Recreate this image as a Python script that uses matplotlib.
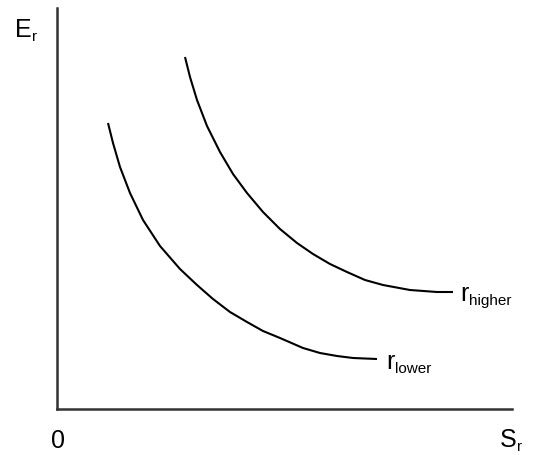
import matplotlib.pyplot as plt

plt.rcParams['font.family'] = ['Liberation Sans', 'DejaVu Sans']

# the two curves
lower_x = [51, 56, 63, 73, 86, 103, 123, 140, 156, 173, 190, 206, 223, 246, 263, 280, 296, 320]
lower_y = [286, 266, 242, 216, 189, 163, 140, 124, 110, 97, 87, 78, 71, 61, 56, 53, 51, 50]
higher_x = [128, 133, 140, 150, 163, 176, 190, 206, 223, 240, 256, 273, 290, 308, 326, 353, 380, 396]
higher_y = [352, 332, 309, 283, 257, 235, 216, 197, 180, 166, 155, 145, 137, 129, 124, 119, 117, 117]

fig = plt.figure(figsize=(5.47, 4.55), dpi=100)
ax = fig.add_axes([57 / 547, 46 / 455, 455 / 547, 401 / 455])
ax.set_xlim(0, 455)
ax.set_ylim(0, 401)

ax.plot(lower_x, lower_y, color='black', lw=1.5, solid_capstyle='butt', solid_joinstyle='round')
ax.plot(higher_x, higher_y, color='black', lw=1.5, solid_capstyle='butt', solid_joinstyle='round')

for s in ['top', 'right']:
    ax.spines[s].set_visible(False)
for s in ['left', 'bottom']:
    ax.spines[s].set_color('#333333')
    ax.spines[s].set_linewidth(1.8)
ax.set_xticks([])
ax.set_yticks([])

fs, fs_sub = 18, 11


def label(x, y, main, sub, width):
    # main letter, then a smaller subscript right after it
    ax.text(x, y, main, fontsize=fs, va='baseline', ha='left', clip_on=False)
    ax.annotate(sub, (x, y), xytext=(width, -3), textcoords='offset points',
                fontsize=fs_sub, va='baseline', ha='left', annotation_clip=False)


label(329, lower_y[-1] - 10, 'r', 'lower', 6.3)
label(403, higher_y[-1] - 9, 'r', 'higher', 6.3)
label(-42, 372, 'E', 'r', 12.3)
label(443, -38, 'S', 'r', 12.3)
ax.text(1, -39, '0', fontsize=fs, va='baseline', ha='center', clip_on=False)

fig.savefig('out.png', dpi=100)
